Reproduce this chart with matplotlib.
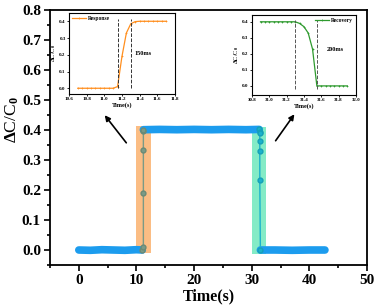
import matplotlib
matplotlib.use('Agg')
import matplotlib.pyplot as plt
from matplotlib.ticker import MultipleLocator

plt.rcParams['font.family'] = ['Liberation Serif', 'DejaVu Serif']
plt.rcParams['font.weight'] = 'bold'
plt.rcParams['mathtext.fontset'] = 'custom'
plt.rcParams['mathtext.rm'] = 'Liberation Serif:bold'
plt.rcParams['mathtext.it'] = 'Liberation Serif:bold'

# main trace
t_low1 = [0.0, 2.0, 4.0, 6.0, 8.0, 10.0, 11.0]
v_low1 = [0.0, -0.001, 0.001, 0.0, -0.001, 0.001, 0.0]
t_high = [11.2, 14.0, 17.0, 20.0, 23.0, 26.0, 29.0, 31.3]
v_high = [0.401, 0.402, 0.401, 0.402, 0.401, 0.402, 0.401, 0.402]
t_low2 = [31.5, 34.0, 37.0, 40.0, 42.7]
v_low2 = [0.0, 0.0, -0.001, 0.0, 0.0]

# transitions in main plot
t_up = [11.0, 11.2, 11.2, 11.2, 11.2, 11.2]
v_up = [0.0, 0.01, 0.19, 0.334, 0.398, 0.401]
t_down = [31.3, 31.4, 31.4, 31.4, 31.4, 31.4, 31.5]
v_down = [0.402, 0.395, 0.39, 0.365, 0.33, 0.234, 0.0]

# highlighted windows
span_rise = (10.0, 12.5)
span_fall = (30.0, 32.5)

# inset: response
t_resp = [10.70, 10.75, 10.80, 10.85, 10.90, 10.95, 11.00, 11.05, 11.10, 11.15,
          11.20, 11.25, 11.30, 11.35, 11.40, 11.45, 11.50, 11.55, 11.60, 11.65, 11.70]
v_resp = [0.0, 0.0, 0.0, 0.0, 0.0, 0.0, 0.0, 0.0, 0.0, 0.01,
          0.19, 0.33, 0.385, 0.398, 0.4, 0.4, 0.4, 0.4, 0.4, 0.4, 0.4]
resp_marks = [11.15, 11.30]

# inset: recovery
t_rec = [30.90, 30.95, 31.00, 31.05, 31.10, 31.15, 31.20, 31.25, 31.30, 31.35,
         31.40, 31.45, 31.50, 31.55, 31.60, 31.65, 31.70, 31.75, 31.80, 31.85, 31.90]
v_rec = [0.4, 0.4, 0.4, 0.4, 0.4, 0.4, 0.4, 0.4, 0.4, 0.39,
         0.37, 0.33, 0.23, 0.0, 0.0, 0.0, 0.0, 0.0, 0.0, 0.0, 0.0]
rec_marks = [31.30, 31.55]

fig = plt.figure(figsize=(3.77, 3.07), dpi=100)
ax = fig.add_axes([0.1326, 0.1368, 0.8409, 0.8306])

ax.fill_between(span_rise, -0.01, 0.415, color='#fbbd84', lw=0)
ax.fill_between(span_fall, -0.012, 0.41, color='#84ebc6', lw=0)

blue = '#1c9cee'
for tt, vv in [(t_low1, v_low1), (t_high, v_high), (t_low2, v_low2)]:
    ax.plot(tt, vv, color=blue, lw=5.5, solid_capstyle='round')
ax.plot(t_up, v_up, color='#7b9a86', lw=1.0, marker='o', ms=3.5, mfc='#7b9a86', mec='#6a8a76')
ax.plot(t_down, v_down, color='#1ab2cc', lw=1.0, marker='o', ms=3.5, mfc='#1ab2cc', mec='#14a0b8')

ax.set_xlim(-5, 50)
ax.set_ylim(-0.05, 0.8)
ax.xaxis.set_major_locator(MultipleLocator(10))
ax.xaxis.set_minor_locator(MultipleLocator(5))
ax.yaxis.set_major_locator(MultipleLocator(0.1))
ax.yaxis.set_minor_locator(MultipleLocator(0.05))
ax.tick_params(which='both', direction='out', labelsize=11, width=1.2)
ax.tick_params(which='major', length=4, pad=2.5)
ax.tick_params(which='minor', length=2.5)
for s in ax.spines.values():
    s.set_linewidth(1.3)
ax.set_xlabel('Time(s)', fontsize=11.5, fontweight='bold')
ax.xaxis.set_label_coords(0.5, -0.092)
ax.set_ylabel(r'$\Delta$C/C$_0$', fontsize=12.5)
ax.yaxis.set_label_coords(-0.09, 0.57)

# arrows
ax.annotate('', xy=(103 / 377, 1 - 113 / 307), xycoords='figure fraction',
            xytext=(128 / 377, 1 - 145 / 307), textcoords='figure fraction',
            arrowprops=dict(arrowstyle='-|>', color='black', lw=1.2, mutation_scale=8))
ax.annotate('', xy=(296 / 377, 1 - 112 / 307), xycoords='figure fraction',
            xytext=(274 / 377, 1 - 143 / 307), textcoords='figure fraction',
            arrowprops=dict(arrowstyle='-|>', color='black', lw=1.2, mutation_scale=8))


def style_inset(a, xlim, ylim):
    a.set_xlim(*xlim)
    a.set_ylim(*ylim)
    a.xaxis.set_major_locator(MultipleLocator(0.2))
    a.yaxis.set_major_locator(MultipleLocator(0.1))
    a.tick_params(direction='out', labelsize=3.6, length=1.5, width=0.6, pad=1)
    for lab in a.get_xticklabels() + a.get_yticklabels():
        lab.set_fontweight('bold')
    for s in a.spines.values():
        s.set_linewidth(0.8)
    a.set_xlabel('Time(s)', fontsize=4.5, fontweight='bold', labelpad=0.5)
    a.set_ylabel(r'$\Delta$C/C$_0$', fontsize=4.5, labelpad=0.5)


ax1 = fig.add_axes([0.183, 0.694, 0.281, 0.264])
ax1.plot(t_resp, v_resp, color='#ff8f1f', lw=0.9, marker='+', ms=2, mew=0.5, label='Response')
for m in resp_marks:
    ax1.axvline(m, color='#333333', ls='--', lw=0.7, ymin=0.07, ymax=0.93)
ax1.text(11.34, 0.2, '150ms', fontsize=4.5, fontweight='bold')
style_inset(ax1, (10.6, 11.8), (-0.034, 0.45))
ax1.legend(loc='upper left', fontsize=4, frameon=False, handlelength=2.5,
           borderaxespad=0.2, handletextpad=0.4)

ax2 = fig.add_axes([0.668, 0.691, 0.276, 0.261])
ax2.plot(t_rec, v_rec, color='#2e9a2e', lw=0.9, marker='+', ms=2, mew=0.5, label='Recovery')
for m in rec_marks:
    ax2.axvline(m, color='#555555', ls='--', lw=0.7, ymin=0.07, ymax=0.93)
ax2.text(31.66, 0.22, '200ms', fontsize=4.5, fontweight='bold')
style_inset(ax2, (30.8, 32.0), (-0.056, 0.444))
ax2.legend(loc='upper right', fontsize=4, frameon=False, handlelength=2.5,
           borderaxespad=0.1, handletextpad=0.4)

fig.savefig('out.png', dpi=100)
